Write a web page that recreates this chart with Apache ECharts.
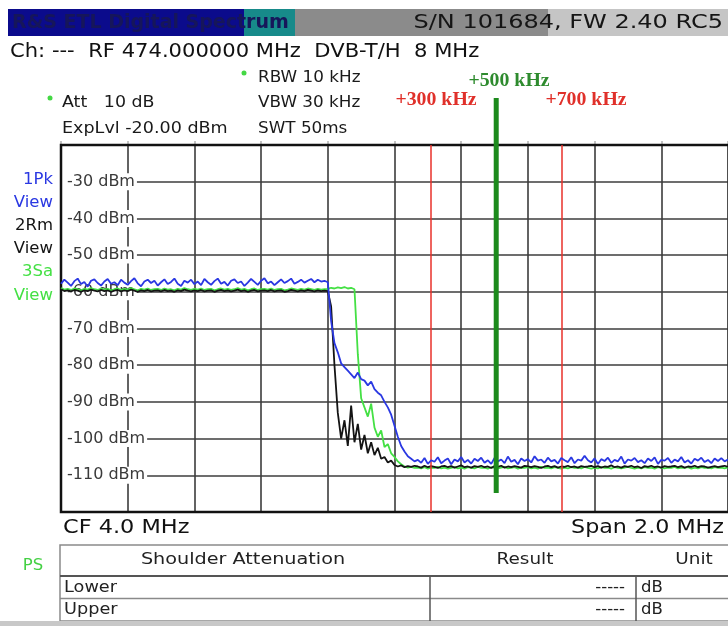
<!DOCTYPE html>
<html>
<head>
<meta charset="utf-8">
<script src="https://cdn.jsdelivr.net/npm/echarts@6/dist/echarts.min.js"></script>
<style>
  html, body { margin: 0; padding: 0; background: #fff; }
  #chart { width: 728px; height: 626px; }
</style>
</head>
<body>
<div id="chart"></div>
<script>
// Sweep: 3.0 MHz .. 5.0 MHz (CF 4.0 MHz, span 2.0 MHz), one point per 10 kHz
const sweepStartMHz = 3.0;
const sweepStepMHz = 0.01;
const spanMinMHz = 3.0;
const spanMaxMHz = 5.0;
const divisionMHz = 0.2;

// Reference level axis (dBm)
const levelMin = -120;
const levelMax = -20;
const levelStep = 10;
const levelTicks = [-30, -40, -50, -60, -70, -80, -90, -100, -110];

// Trace 1: max peak (dBm), 3.00 .. 5.00 MHz
const peakTrace = [
  -57.8,-56.7,-57.5,-58.4,-57.1,-56.4,-57.9,-57.3,-58.6,-57.0,
  -56.6,-57.6,-58.3,-57.2,-56.5,-57.8,-57.4,-58.2,-56.7,-57.5,
  -58.1,-57.1,-56.3,-57.7,-58.5,-57.2,-56.7,-57.6,-57.0,-58.3,
  -57.4,-56.6,-57.9,-57.3,-56.4,-57.8,-58.4,-57.0,-57.5,-56.7,
  -57.9,-57.2,-58.2,-56.5,-57.4,-58.1,-57.1,-56.4,-57.8,-57.3,
  -58.3,-57.0,-56.6,-57.6,-57.2,-58.4,-57.5,-56.5,-57.3,-58.1,
  -57.0,-56.3,-57.7,-57.2,-58.2,-57.4,-56.6,-57.6,-57.1,-56.4,
  -57.8,-57.3,-56.7,-57.5,-57.0,-56.5,-57.4,-56.7,-57.2,-57.0,
  -57.4,-68.0,-74.0,-76.5,-79.5,-80.5,-81.5,-82.5,-83.5,-82.0,
  -83.8,-84.2,-85.5,-84.5,-86.5,-87.5,-88.2,-90.0,-91.5,-93.5,
  -96.5,-99.5,-102.0,-103.5,-104.8,-105.5,-106.2,
  -105.8,-106.6,-105.3,-106.9,-105.9,-106.3,-105.1,-106.7,-106.0,-105.4,
  -107.0,-105.7,-106.2,-105.0,-106.5,-105.8,-106.8,-105.5,-106.1,-105.2,
  -106.6,-105.9,-106.9,-105.3,-106.2,-105.7,-106.7,-104.9,-106.3,-105.8,
  -107.0,-105.4,-106.1,-105.6,-106.5,-104.8,-106.0,-105.7,-106.6,-105.2,
  -106.2,-105.8,-106.8,-105.3,-105.9,-106.4,-105.1,-106.7,-105.7,-106.0,
  -104.7,-105.9,-106.5,-105.4,-106.9,-105.6,-106.1,-105.2,-106.6,-105.8,
  -106.2,-104.9,-106.8,-105.7,-106.0,-105.3,-106.4,-105.9,-106.7,-105.4,
  -106.1,-105.1,-106.9,-105.8,-106.0,-105.3,-106.6,-105.7,-106.2,-105.0,
  -106.5,-105.9,-106.8,-105.5,-106.0,-105.2,-106.4,-105.8,-106.7,-105.4,
  -106.1,-105.3,-106.2,-105.7
];

// Trace 2: RMS (dBm)
const rmsTrace = [
  -59.3,-59.8,-59.6,-59.9,-59.5,-59.7,-60.0,-59.6,-59.8,-59.4,
  -59.7,-59.9,-59.5,-59.8,-59.6,-60.0,-59.7,-59.5,-59.9,-59.6,
  -59.8,-59.4,-59.7,-60.0,-59.6,-59.8,-59.5,-59.9,-59.7,-59.6,
  -59.9,-59.5,-59.8,-59.7,-60.0,-59.6,-59.8,-59.4,-59.7,-59.9,
  -59.6,-59.8,-59.5,-59.9,-59.7,-59.6,-60.0,-59.7,-59.5,-59.8,
  -59.6,-59.9,-59.7,-59.4,-59.8,-59.6,-60.0,-59.7,-59.5,-59.9,
  -59.7,-59.6,-59.8,-59.5,-59.9,-59.7,-59.6,-60.0,-59.8,-59.5,
  -59.7,-59.9,-59.6,-59.8,-59.5,-59.7,-59.9,-59.6,-59.8,-59.7,
  -59.8,-64.0,-80.0,-93.0,-100.0,-95.0,-102.0,-91.0,-101.0,-96.0,
  -103.0,-99.0,-104.0,-101.0,-104.5,-102.5,-105.5,-105.0,-106.5,-106.0,
  -107.2,-107.6,-107.3,-107.8,-107.5,-107.7,-107.4,
  -107.6,-107.9,-107.4,-107.8,-107.5,-107.7,-108.0,-107.6,-107.4,-107.8,
  -107.5,-107.9,-107.6,-107.3,-107.8,-107.6,-107.9,-107.5,-107.7,-107.4,
  -107.8,-107.6,-108.0,-107.5,-107.7,-107.4,-107.9,-107.6,-107.8,-107.5,
  -107.7,-107.9,-107.4,-107.6,-107.8,-107.5,-107.7,-108.0,-107.6,-107.4,
  -107.8,-107.5,-107.9,-107.6,-107.7,-107.4,-107.8,-107.6,-107.9,-107.5,
  -107.7,-107.6,-107.4,-107.8,-107.5,-107.9,-107.6,-107.7,-107.3,-107.8,
  -107.6,-107.9,-107.5,-107.7,-107.4,-107.8,-107.6,-108.0,-107.5,-107.7,
  -107.4,-107.8,-107.6,-107.9,-107.5,-107.7,-107.6,-107.4,-107.8,-107.5,
  -107.9,-107.6,-107.7,-107.4,-107.8,-107.5,-107.6,-107.9,-107.7,-107.5,
  -107.8,-107.6,-107.4,-107.7
];

// Trace 3: sample (dBm)
const sampleTrace = [
  -59.0,-59.4,-59.2,-59.5,-59.1,-59.3,-59.6,-59.2,-59.4,-59.0,
  -59.3,-59.5,-59.1,-59.4,-59.2,-59.6,-59.3,-59.1,-59.5,-59.2,
  -59.4,-59.0,-59.3,-59.6,-59.2,-59.4,-59.1,-59.5,-59.3,-59.2,
  -59.5,-59.1,-59.4,-59.3,-59.6,-59.2,-59.4,-59.0,-59.3,-59.5,
  -59.2,-59.4,-59.1,-59.5,-59.3,-59.2,-59.6,-59.3,-59.1,-59.4,
  -59.2,-59.5,-59.3,-59.0,-59.4,-59.2,-59.6,-59.3,-59.1,-59.5,
  -59.3,-59.2,-59.4,-59.1,-59.5,-59.3,-59.2,-59.6,-59.4,-59.1,
  -59.3,-59.5,-59.2,-59.4,-59.1,-59.3,-59.5,-59.2,-59.4,-59.3,
  -59.2,-58.9,-59.1,-58.8,-59.0,-58.7,-59.1,-58.9,-59.3,-77.0,
  -89.0,-91.5,-94.0,-90.5,-97.0,-99.5,-97.8,-102.3,-101.5,-104.0,
  -105.0,-106.2,-107.0,-107.6,-107.9,-107.7,-108.0,
  -107.9,-108.1,-107.8,-108.2,-107.9,-108.0,-107.7,-108.1,-107.9,-108.2,
  -108.0,-107.8,-108.1,-107.9,-108.2,-107.8,-108.0,-108.1,-107.7,-108.0,
  -107.9,-108.2,-107.8,-108.0,-108.1,-107.9,-107.7,-108.1,-108.0,-107.8,
  -108.2,-107.9,-108.0,-107.8,-108.1,-107.9,-108.2,-107.7,-108.0,-107.9,
  -108.1,-107.8,-108.0,-108.2,-107.9,-108.1,-107.8,-108.0,-107.9,-108.1,
  -107.7,-108.0,-108.2,-107.9,-108.1,-107.8,-108.0,-107.9,-108.2,-107.8,
  -108.0,-108.1,-107.9,-107.7,-108.0,-108.2,-107.9,-108.1,-107.8,-108.0,
  -107.9,-108.2,-107.8,-108.0,-108.1,-107.9,-108.0,-107.7,-108.1,-107.9,
  -108.0,-107.8,-108.2,-107.9,-108.1,-107.8,-108.0,-107.9,-108.1,-107.8,
  -108.0,-107.9,-108.1,-107.8
];

// Shoulder markers measured from the upper channel edge
const channelEdgeMHz = 3.805;
const markerOffsetsKHz = [300, 500, 700];
const markerLabels = ['+300 kHz', '+500 kHz', '+700 kHz'];
const shoulderMarkerTopDbm = -7.2;
const shoulderMarkerBottomDbm = -114.8;

// Trace legend and measurement table
const traceTags = ['1Pk', '2Rm', '3Sa'];
const traceColors = ['#2a38e2', '#141414', '#44e044'];
const tableHeader = ['Shoulder Attenuation', 'Result', 'Unit'];
const tableRows = [
  ['Lower', '-----', 'dB'],
  ['Upper', '-----', 'dB']
];

const toPairs = levels => levels.map((v, i) => [+(sweepStartMHz + i * sweepStepMHz).toFixed(3), v]);

const FONT = '"DejaVu Sans", Verdana, sans-serif';
const SERIF = '"Liberation Serif", "DejaVu Serif", serif';

// diagram area in pixels
const PLOT = { left: 61, top: 145, width: 668, height: 367 };

// text element anchored at (x, y); sx widens the glyphs like the instrument's screen font
function txt(text, x, y, size, fill, align, weight, family, sx) {
  return {
    type: 'text', silent: true, z: 10,
    x: x, y: y, scaleX: sx || 1.15, scaleY: 1,
    style: {
      text: text, x: 0, y: 0,
      font: (weight || 'normal') + ' ' + size + 'px ' + (family || FONT),
      fill: fill, textAlign: align || 'left', textVerticalAlign: 'middle'
    }
  };
}
function rect(x, y, w, h, fill, stroke, lw, z) {
  return {
    type: 'rect', silent: true, z: z === undefined ? 9 : z,
    shape: { x: x, y: y, width: w, height: h },
    style: { fill: fill || 'none', stroke: stroke || null, lineWidth: lw || 0 }
  };
}
function hline(x1, x2, y, color, lw) {
  return { type: 'line', silent: true, z: 9, shape: { x1: x1, y1: y, x2: x2, y2: y }, style: { stroke: color, lineWidth: lw } };
}
function vline(x, y1, y2, color, lw) {
  return { type: 'line', silent: true, z: 9, shape: { x1: x, y1: y1, x2: x, y2: y2 }, style: { stroke: color, lineWidth: lw } };
}

const graphics = [
  // diagram frame, above the level labels and below the traces
  rect(PLOT.left, PLOT.top, PLOT.width, PLOT.height, 'none', '#111', 2.5, 1.5),
  // title bar
  rect(8, 9, 236, 27, '#0b0b8c'),
  rect(244, 9, 51, 27, '#178a8a'),
  rect(295, 9, 253, 27, '#8b8b8b'),
  rect(548, 9, 180, 27, '#c5c5c5'),
  txt('R&S ETL Digital Spectrum', 12, 23, 19, '#16165a', 'left', 'bold', FONT, 1.0),
  txt('S/N 101684, FW 2.40 RC5', 723, 23, 20, '#151515', 'right', 'normal', FONT, 1.2),
  txt('Ch: ---  RF 474.000000 MHz  DVB-T/H  8 MHz', 10, 52, 19, '#111', 'left', 'normal', FONT, 1.11),
  // settings
  { type: 'circle', silent: true, z: 10, shape: { cx: 244, cy: 73, r: 2.5 }, style: { fill: '#44d844' } },
  { type: 'circle', silent: true, z: 10, shape: { cx: 50, cy: 98, r: 2.5 }, style: { fill: '#44d844' } },
  txt('RBW 10 kHz', 258, 78, 15, '#1a1a1a', 'left', 'normal', FONT, 1.12),
  txt('Att   10 dB', 62, 103, 15, '#1a1a1a', 'left', 'normal', FONT, 1.16),
  txt('VBW 30 kHz', 258, 103, 15, '#1a1a1a', 'left', 'normal', FONT, 1.12),
  txt('ExpLvl -20.00 dBm', 62, 129, 15, '#1a1a1a', 'left', 'normal', FONT, 1.17),
  txt('SWT 50ms', 258, 129, 15, '#1a1a1a', 'left', 'normal', FONT, 1.12),
  // marker captions
  txt(markerLabels[1], 509, 81, 18, '#2e8b2e', 'center', 'bold', SERIF, 1.1),
  txt(markerLabels[0], 436, 100, 18, '#e0302a', 'center', 'bold', SERIF, 1.1),
  txt(markerLabels[2], 586, 100, 18, '#e0302a', 'center', 'bold', SERIF, 1.1),
  // trace tags
  txt(traceTags[0], 53, 180, 15, traceColors[0], 'right', 'normal', FONT, 1.1),
  txt('View', 53, 203, 15, traceColors[0], 'right', 'normal', FONT, 1.1),
  txt(traceTags[1], 53, 226, 15, traceColors[1], 'right', 'normal', FONT, 1.1),
  txt('View', 53, 249, 15, traceColors[1], 'right', 'normal', FONT, 1.1),
  txt(traceTags[2], 53, 272, 15, traceColors[2], 'right', 'normal', FONT, 1.1),
  txt('View', 53, 296, 15, traceColors[2], 'right', 'normal', FONT, 1.1),
  // footer of the diagram
  txt('CF 4.0 MHz', 63, 528, 19, '#111', 'left', 'normal', FONT, 1.18),
  txt('Span 2.0 MHz', 724, 528, 19, '#111', 'right', 'normal', FONT, 1.17),
  txt('PS', 33, 566, 15, '#44d044', 'center', 'normal', FONT, 1.1),
  // result table
  rect(60, 545, 670, 76, '#fff', '#8a8a8a', 1.5),
  hline(60, 730, 576, '#555', 2),
  hline(60, 730, 598.5, '#8a8a8a', 1.5),
  vline(430, 576, 621, '#555', 1.5),
  vline(636, 576, 621, '#555', 1.5),
  txt(tableHeader[0], 243, 560, 16, '#222', 'center', 'normal', FONT, 1.2),
  txt(tableHeader[1], 525, 560, 16, '#222', 'center', 'normal', FONT, 1.15),
  txt(tableHeader[2], 694, 560, 16, '#222', 'center', 'normal', FONT, 1.15),
  txt(tableRows[0][0], 64, 588, 15, '#222', 'left', 'normal', FONT, 1.18),
  txt(tableRows[0][1], 625, 588, 15, '#222', 'right', 'normal', FONT, 1.1),
  txt(tableRows[0][2], 641, 588, 15, '#222', 'left', 'normal', FONT, 1.1),
  txt(tableRows[1][0], 64, 610, 15, '#222', 'left', 'normal', FONT, 1.18),
  txt(tableRows[1][1], 625, 610, 15, '#222', 'right', 'normal', FONT, 1.1),
  txt(tableRows[1][2], 641, 610, 15, '#222', 'left', 'normal', FONT, 1.1),
  rect(0, 621, 728, 5, '#c8c8c8')
];

const chart = echarts.init(document.getElementById('chart'), null, { renderer: 'canvas' });

const traceLine = (name, data, color, z, width) => ({
  type: 'line', name: name, data: toPairs(data),
  symbol: 'none', showSymbol: false, animation: false, silent: true, z: z,
  lineStyle: { color: color, width: width }
});

chart.setOption({
  animation: false,
  backgroundColor: '#fff',
  grid: {
    left: PLOT.left, top: PLOT.top, width: PLOT.width, height: PLOT.height,
    show: true, borderWidth: 0, backgroundColor: '#fff'
  },
  xAxis: {
    type: 'value', position: 'top', min: spanMinMHz, max: spanMaxMHz, interval: divisionMHz,
    axisLine: { show: false }, axisLabel: { show: false },
    axisTick: { show: true, inside: false, length: 4, lineStyle: { color: '#b0b0b0', width: 1.5 } },
    splitLine: { show: true, lineStyle: { color: '#3c3c3c', width: 1.6 } }
  },
  yAxis: [
    {
      type: 'value', min: levelMin, max: levelMax, interval: levelStep,
      axisLine: { show: false }, axisTick: { show: false }, axisLabel: { show: false },
      splitLine: { show: true, lineStyle: { color: '#3c3c3c', width: 1.6 } }
    },
    {
      type: 'value', min: levelMin, max: levelMax, interval: levelStep, position: 'left', z: 1,
      axisLine: { show: false }, axisTick: { show: false }, splitLine: { show: false },
      axisLabel: {
        inside: true, margin: 0, color: '#3a3a3a', fontFamily: FONT, fontSize: 16,
        backgroundColor: '#fff', padding: [1, 2, 0, 6],
        formatter: v => (levelTicks.indexOf(v) >= 0 ? v + ' dBm' : '')
      }
    }
  ],
  series: [
    {
      type: 'line', data: [], silent: true, z: 2,
      markLine: {
        silent: true, symbol: 'none', animation: false,
        label: { show: false },
        lineStyle: { color: '#e8302a', width: 1.5, type: 'solid' },
        data: [
          { xAxis: channelEdgeMHz + markerOffsetsKHz[0] / 1000 },
          { xAxis: channelEdgeMHz + markerOffsetsKHz[2] / 1000 }
        ]
      }
    },
    traceLine(traceTags[2], sampleTrace, traceColors[2], 3, 1.8),
    traceLine(traceTags[1], rmsTrace, traceColors[1], 4, 1.8),
    traceLine(traceTags[0], peakTrace, traceColors[0], 5, 1.8),
    {
      type: 'line', silent: true, animation: false, clip: false, z: 6, symbol: 'none',
      data: [
        [channelEdgeMHz + markerOffsetsKHz[1] / 1000, shoulderMarkerTopDbm],
        [channelEdgeMHz + markerOffsetsKHz[1] / 1000, shoulderMarkerBottomDbm]
      ],
      lineStyle: { color: '#1c8a1c', width: 5 }
    }
  ],
  graphic: { elements: graphics }
});
</script>
</body>
</html>
